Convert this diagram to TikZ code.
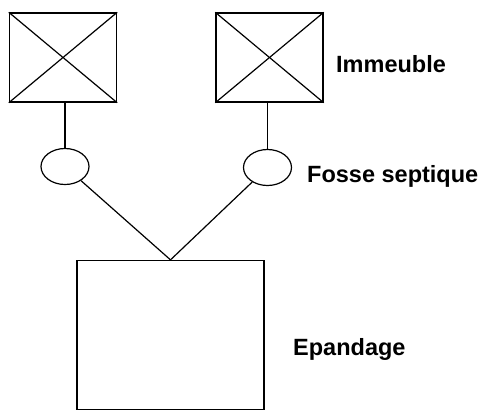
\documentclass[tikz,border=0pt]{standalone}
\usepackage{fontspec}
\setmainfont{Liberation Sans}
\usetikzlibrary{shapes.geometric}
\begin{document}
\begin{tikzpicture}[x=1pt,y=-1pt,
  house/.style={draw, line width=1.4pt, minimum width=107pt, minimum height=89pt, inner sep=0pt},
  tank/.style={draw, ellipse, line width=1.2pt, minimum width=48pt, minimum height=36pt, inner sep=0pt},
  field/.style={draw, line width=1.3pt, minimum width=187pt, minimum height=149pt, inner sep=0pt},
  pipe/.style={line width=1.2pt},
  lbl/.style={font=\fontsize{23.5}{24}\selectfont\bfseries, inner sep=0pt, anchor=base west}]
\useasboundingbox (0,0) rectangle (488,413);
\node[house] (h1) at (63,57.5) {};
\node[house] (h2) at (269.5,57.5) {};
\draw[pipe] (h1.north west) -- (h1.south east) (h1.north east) -- (h1.south west);
\draw[pipe] (h2.north west) -- (h2.south east) (h2.north east) -- (h2.south west);
\node[tank] (t1) at (65,166.5) {};
\node[tank] (t2) at (267.5,167.5) {};
\node[field] (f) at (170.5,335) {};
\draw[pipe] (h1.south -| t1.north) -- (t1.north);
\draw[pipe] (h2.south -| t2.north) -- (t2.north);
\draw[pipe] (t1) -- (f.north);
\draw[pipe] (t2) -- (f.north);
\node[lbl] (l1) at (336,72) {Immeuble};
\node[lbl] (l2) at (307,182) {Fosse septique};
\node[lbl] (l3) at (293,355) {Epandage};
\end{tikzpicture}
\end{document}
